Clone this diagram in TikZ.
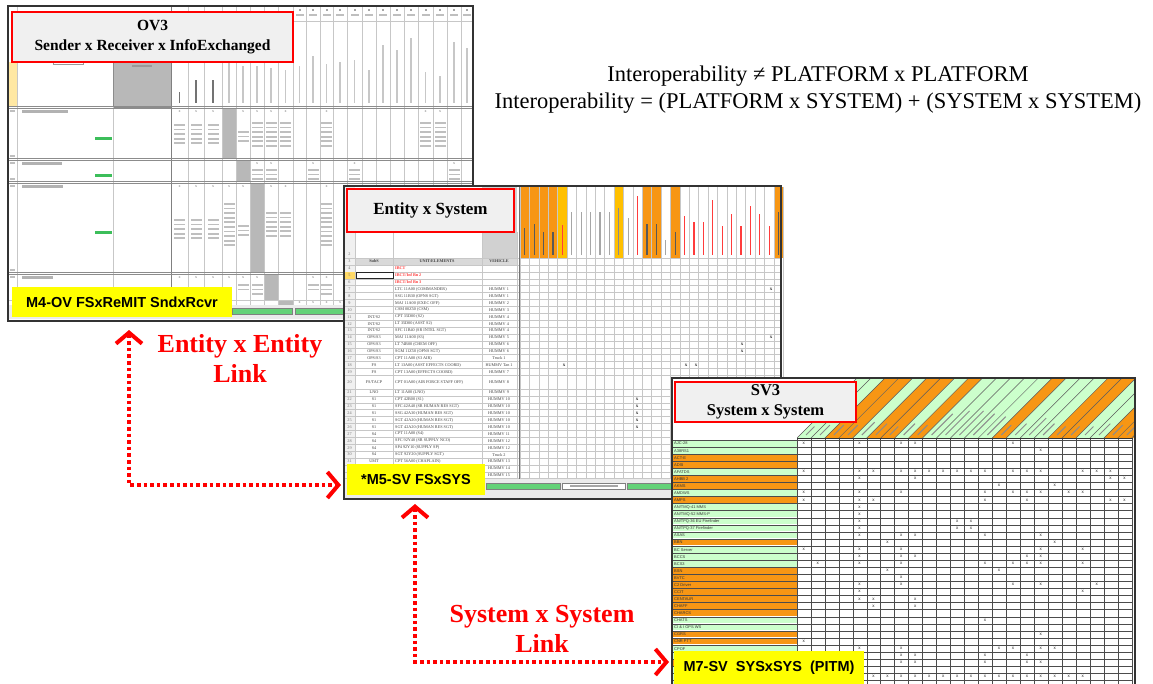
\documentclass[tikz,border=0pt]{standalone}
\usepackage{fontspec}
\setmainfont{Liberation Serif}
\newfontfamily\arialfam{Liberation Sans}
\usetikzlibrary{arrows.meta}
\definecolor{cOr}{RGB}{247,150,20}
\definecolor{cYe}{RGB}{255,192,0}
\definecolor{cGr}{RGB}{204,255,204}
\definecolor{cTab}{RGB}{100,210,120}
\definecolor{cRed}{RGB}{255,0,0}
\definecolor{cYel}{RGB}{255,255,0}
\definecolor{cTitle}{RGB}{240,240,240}
\definecolor{cSel}{RGB}{255,217,102}
\definecolor{cTxtRed}{RGB}{255,60,60}
\definecolor{cGreenTxt}{RGB}{60,190,90}
\newcommand\mysl{/}
\newcount\mycnt
\newcommand\tx[4][]{\global\advance\mycnt by 1\relax\node[#1] (q\the\mycnt) at (#2,#3) {#4};}
\newcommand\ovl[3]{\foreach \k in {1,...,#3}{\fill[black!25] ({#1-5.5},{#2+4.6*(\k-1)}) rectangle ({#1+5.5},{#2+1.8+4.6*(\k-1)});}}
\newcommand\prow[5]{%
  \tx[tinyt,text=black!55]{349.5}{#1}{#2}%
  \tx[tinyt]{374}{#1}{#3}%
  \tx[tinyt,anchor=west]{395}{#1}{#4}%
  \tx[tinyt]{499}{#1}{#5}}
\begin{document}
\begin{tikzpicture}[x=1pt,y=-1pt,
  panel/.style={fill=white,inner sep=0pt,outer sep=0pt},
  frame/.style={draw=black!80,line width=2pt},
  titlebox/.style={draw=cRed,line width=2.8pt,fill=cTitle,inner sep=0pt,align=center,
     font=\bfseries\fontsize{15.5}{19.5}\selectfont},
  ylab/.style={fill=cYel,inner sep=0pt,font=\arialfam\bfseries\fontsize{14.5}{17}\selectfont},
  redlab/.style={text=cRed,align=center,font=\bfseries\fontsize{26}{30}\selectfont},
  link/.style={draw=cRed,line width=3.6pt,dash pattern=on 3.6pt off 3pt,
     >={Straight Barb[length=11pt,width=26pt,line width=4pt]},<->},
  gl/.style={draw=black!22,line width=0.5pt},
  g3/.style={draw=black!70,line width=0.5pt},
  tabg/.style={fill=cTab,draw=black!50,line width=0.3pt},
  tinyt/.style={inner sep=0pt,text=black!75,font=\fontsize{4.2}{4.5}\selectfont},
  tinyb/.style={inner sep=0pt,text=black!75,font=\bfseries\fontsize{4.2}{4.5}\selectfont},
  tinyr/.style={inner sep=0pt,text=cTxtRed,anchor=west,font=\bfseries\fontsize{4.2}{4.5}\selectfont},
  xm/.style={inner sep=0pt,text=black!55,font=\fontsize{4}{4}\selectfont},
  xm5/.style={inner sep=0pt,text=black!80,font=\bfseries\fontsize{5}{5}\selectfont},
  lab3/.style={inner sep=0pt,text=black!80,font=\arialfam\fontsize{4}{4}\selectfont},
  xm3/.style={inner sep=0pt,text=black!85,font=\arialfam\fontsize{4.5}{4.5}\selectfont},
]
\useasboundingbox (0,0) rectangle (1153,683);
\clip (0,0) rectangle (1153,683);

% ================= Panel 1 : OV3 =================
\node[panel,minimum width=465pt,minimum height=315pt] (p1) at (240.5,163.5) {};
\fill[cSel!60] (9,62) rectangle (17,106);
\draw[black!40,line width=0.4pt] (53,60) rectangle (83,64);
\fill[black!28] (113,62) rectangle (171,107);
\draw[black!45,line width=0.6pt] (113,62) rectangle (171,107);
\fill[black!40] (132,65) rectangle (152,67);
% grey cells
\fill[black!28] (222,108) rectangle (236,159);
\fill[black!28] (236,160) rectangle (250,182);
\fill[black!28] (250,183) rectangle (264,273);
\fill[black!28] (264,274) rectangle (278,300);
\fill[black!28] (278,300) rectangle (293,305);
% rotated header texts
\foreach \x/\tp in {179.5/92,196/80,213/80}{\fill[black!55] ({\x-0.8},\tp) rectangle ({\x+0.8},103);}
\foreach \x/\tp in {229/62,243/66,257/66,271/68,285.5/70,299.5/66,313/56,326.5/64,340/62,354.5/60,369/70,383/45,397/50,411/38,425.5/72,440/76,454/42,467/48}{\fill[black!22] ({\x-0.7},\tp) rectangle ({\x+0.7},103);}
\foreach \x in {299.5,313,326.5,340,354.5,369,383,397,411,425.5,440,454,467}{\fill[black!25] ({\x-4},14) rectangle ({\x+4},16); \fill[black!35] ({\x-1},9) rectangle ({\x+1},11);}
% grid lines
\foreach \x in {188,204,222,236,250,264,278,293,306,320,333,347,362,376,390,404,418,433,447,461}{\draw[gl] (\x,7) -- (\x,305);}
\draw[black!50,line width=0.8pt] (171,7) -- (171,305);
\draw[gl] (17,7) -- (17,305);
\draw[gl] (113,107) -- (113,305);
\draw[gl] (293,21) -- (473,21);
\foreach \y in {107,159.5,182.5,273.5}{\draw[black!45,line width=0.5pt] (8,{\y-1}) -- (473,{\y-1}); \draw[black!45,line width=0.5pt] (8,{\y+1}) -- (473,{\y+1});}
\draw[gl] (8,300) -- (473,300);
% row labels (blurred) and green tags
\fill[black!30] (22,110) rectangle (68,112.5);
\fill[black!30] (22,162) rectangle (62,164.5);
\fill[black!30] (22,185) rectangle (63,187.5);
\fill[black!30] (22,276) rectangle (53,278.5);
\foreach \y in {111,163,186,277,156,179,270}{\fill[black!25] (10,{\y-1}) rectangle (15,{\y+1});}
\foreach \y in {137,174,231}{\fill[cGreenTxt] (95,\y) rectangle (112,{\y+2.5});}
% cell contents
\foreach \x in {179.5,196,213,243,257,271,285.5,326.5,425.5,440}{\tx[xm]{\x}{112}{x}}
\foreach \x in {179.5,196,213}{\ovl{\x}{124}{5}}
\ovl{243}{131}{3}
\foreach \x in {257,271,285.5,326.5,425.5,440}{\ovl{\x}{122}{6}}
\foreach \x in {257,271,313,354.5,454}{\tx[xm]{\x}{164}{x}\ovl{\x}{169}{3}}
\foreach \x in {179.5,196,213,229,243,271,285.5,326.5}{\tx[xm]{\x}{187}{x}}
\foreach \x in {179.5,196,213}{\ovl{\x}{219}{5}}
\ovl{229}{203}{10}
\ovl{243}{225}{3}
\foreach \x in {271,285.5}{\ovl{\x}{212}{6}}
\ovl{326.5}{203}{10}
\foreach \x in {179.5,196,213,229,243,257,313,326.5}{\tx[xm]{\x}{278}{x}}
\ovl{243}{284}{2}\ovl{257}{284}{3}\ovl{313}{284}{2}\ovl{326.5}{284}{3}
\foreach \x in {299.5,313,326.5,340,354.5}{\tx[xm]{\x}{303}{x}}
% sheet tabs
\fill[black!8] (9,305) rectangle (472,319);
\draw[tabg] (232,308) rectangle (292,314);
\draw[tabg] (295,308) rectangle (372,314);
\draw[tabg] (376,308) rectangle (402,314);
\draw[frame] (p1.north west) rectangle (p1.south east);
\node[titlebox,minimum width=281pt,minimum height=50pt] (t1) at (152.5,37) {OV3\\Sender x Receiver x InfoExchanged};
\node[ylab,minimum width=220pt,minimum height=30pt] (y1) at (122,302) {M4-OV FSxReMIT SndxRcvr};

% ================= Panel 2 : Entity x System =================
\node[panel,minimum width=437pt,minimum height=313pt] (p2) at (562.5,342.5) {};
\fill[black!6] (344,186) rectangle (355,479);
\fill[black!18] (482,186) rectangle (517,258);
\foreach \i/\fc/\tc/\tp in {0/cOr/black!65/228,1/cOr/black!65/224,2/cOr/black!65/232,3/cOr/black!65/232,4/cYe/cTxtRed/225,5/white/black!35/212,6/white/black!35/212,7/white/black!35/212,8/white/black!35/212,9/white/black!35/212,10/cYe/black!45/208,11/white/black!35/218,12/white/cTxtRed/196,13/cOr/black!65/224,14/cOr/black!65/224,15/white/black!35/240,16/cOr/black!65/232,17/white/cTxtRed/216,18/white/cTxtRed/222,19/white/cTxtRed/222,20/white/cTxtRed/200,21/white/cTxtRed/226,22/white/cTxtRed/214,23/white/cTxtRed/226,24/white/cTxtRed/206,25/white/cTxtRed/214,26/white/cTxtRed/226,27/cOr/black!65/212}{
  \fill[\fc] ({520+9.4*\i},187) rectangle ({520+9.4*(\i+1)},258);
  \fill[\tc] ({524.2+9.4*\i},\tp) rectangle ({525.4+9.4*\i},255);}
\fill[black!15] (355,258) rectangle (517,265);
\foreach \y in {258,265,271.9,278.8,285.7,292.6,299.5,306.4,313.3,320.2,327.1,334,340.9,347.8,354.7,361.6,368.5,375.4,389,395.9,402.8,409.7,416.6,423.5,430.4,437.3,444.2,451.1,458,464.9,471.8,478.7}{\draw[gl] (344,\y) -- (781,\y);}
\foreach \i in {0,...,28}{\draw[gl] ({520+9.4*\i},187) -- ({520+9.4*\i},479);}
\foreach \x in {355,393,482,517}{\draw[gl] (\x,232) -- (\x,479);}
\draw[black!55,line width=1pt] (519.5,186) -- (519.5,479);
\fill[cSel] (344,271.9) rectangle (355,278.8);
\draw[black!85,line width=0.8pt] (356,271.9) rectangle (393,278.8);
\tx[tinyt,text=black!55]{349.5}{254}{2}
\tx[tinyt,text=black!55]{349.5}{261.5}{3}
\tx[tinyb]{374}{261.5}{SubS}
\tx[tinyb]{437}{261.5}{UNIT/ELEMENTS}
\tx[tinyb]{499}{261.5}{VEHICLE}
\tx[tinyt,text=black!55]{349.5}{268.5}{4}
\tx[tinyt,text=black!55]{349.5}{275.4}{5}
\tx[tinyt,text=black!55]{349.5}{282.3}{6}
\tx[tinyr]{395}{268.5}{IBCT}
\tx[tinyr]{395}{275.4}{IBCT/Inf Bn 2}
\tx[tinyr]{395}{282.3}{IBCT/Inf Bn 3}
\prow{289.2}{7}{}{LTC 11A00 (COMMANDER)}{HUMMV 1}
\prow{296.1}{8}{}{SSG 11B30 (OPNS SGT)}{HUMMV 1}
\prow{303.0}{9}{}{MAJ 11A00 (EXEC OFF)}{HUMMV 2}
\prow{309.9}{10}{}{CSM 00Z50 (CSM)}{HUMMV 3}
\prow{316.8}{11}{INT/S2}{CPT 35D00 (S2)}{HUMMV 4}
\prow{323.7}{12}{INT/S2}{LT 35D00 (ASST S2)}{HUMMV 4}
\prow{330.6}{13}{INT/S2}{SFC 11B40 (SR INTEL SGT)}{HUMMV 4}
\prow{337.5}{14}{OPS/S3}{MAJ 11A00 (S3)}{HUMMV 5}
\prow{344.4}{15}{OPS/S3}{LT 74B00 (CHEM OFF)}{HUMMV 6}
\prow{351.3}{16}{OPS/S3}{SGM 11Z50 (OPNS SGT)}{HUMMV 6}
\prow{358.2}{17}{OPS/S3}{CPT 11A00 (S3 AIR)}{Truck 1}
\prow{365.1}{18}{FS}{LT 13A00 (ASST EFFECTS COORD)}{HUMMV Tan 1}
\prow{372.0}{19}{FS}{CPT 13A00 (EFFECTS COORD)}{HUMMV 7}
\prow{382.2}{20}{FS/TACP}{CPT 01A00 (AIR FORCE STAFF OFF)}{HUMMV 8}
\prow{392.5}{21}{LNO}{LT 11A00 (LNO)}{HUMMV 9}
\prow{399.4}{22}{S1}{CPT 42B00 (S1)}{HUMMV 10}
\prow{406.3}{23}{S1}{SFC 42A40 (SR HUMAN RES SGT)}{HUMMV 10}
\prow{413.2}{24}{S1}{SSG 42A30 (HUMAN RES SGT)}{HUMMV 10}
\prow{420.1}{25}{S1}{SGT 42A20 (HUMAN RES SGT)}{HUMMV 10}
\prow{427.0}{26}{S1}{SGT 42A20 (HUMAN RES SGT)}{HUMMV 10}
\prow{433.9}{27}{S4}{CPT 11A00 (S4)}{HUMMV 11}
\prow{440.8}{28}{S4}{SFC 92Y40 (SR SUPPLY NCO)}{HUMMV 12}
\prow{447.7}{29}{S4}{SP4 92Y10 (SUPPLY SP)}{HUMMV 12}
\prow{454.6}{30}{S4}{SGT 92Y20 (SUPPLY SGT)}{Truck 2}
\prow{461.5}{31}{UMT}{CPT 56A00 (CHAPLAIN)}{HUMMV 13}
\prow{468.4}{32}{}{}{HUMMV 14}
\prow{475.3}{33}{}{}{HUMMV 15}
\foreach \x/\y in {771/289.2,771/337.5,742/344.4,742/351.3,564/365.1,686/365.1,696/365.1,637/399.4,637/406.3,637/413.2,637/420.1,637/427}{\tx[xm5]{\x}{\y}{x}}
\fill[black!8] (345,479) rectangle (780,498);
\draw[tabg] (486,483) rectangle (560,489);
\draw[fill=white,draw=black!50,line width=0.3pt] (562,483) rectangle (625,489);
\fill[black!35] (570,485.2) rectangle (618,486.8);
\draw[tabg] (627,483) rectangle (672,489);
\draw[frame] (p2.north west) rectangle (p2.south east);
\node[titlebox,minimum width=167pt,minimum height=43pt,font=\bfseries\fontsize{17}{20}\selectfont] (t2) at (430.5,210.5) {Entity x System};
\node[ylab,minimum width=138pt,minimum height=31pt] (y2) at (416,479.5) {*M5-SV FSxSYS};

% ================= Panel 3 : SV3 =================
\node[panel,minimum width=463pt,minimum height=314pt] (p3) at (903.5,535) {};
\begin{scope}
  \clip (797,378) rectangle (1134,438);
  \foreach \c/\fc/\L in {0/cGr/12,1/cGr/14,2/cOr/14,3/cOr/14,4/cGr/18,5/cOr/16,6/cOr/12,7/cGr/16,8/cOr/14,9/cGr/30,10/cGr/34,11/cGr/34,12/cGr/30,13/cGr/26,14/cOr/14,15/cGr/16,16/cGr/24,17/cGr/16,18/cOr/12,19/cOr/12,20/cGr/12,21/cGr/16,22/cOr/14,23/cOr/14,24/cOr/10}{
    \fill[\fc] ({797+13.95*\c},438) -- ({810.95+13.95*\c},438) -- ({870.95+13.95*\c},378) -- ({857+13.95*\c},378) -- cycle;
    \draw[black!65,line width=0.5pt] ({797+13.95*\c},438) -- ({857+13.95*\c},378);
    \draw[black!45,line width=1pt] ({806+13.95*\c},435) -- ++({\L*0.707},{-\L*0.707});}
\end{scope}
\foreach \r/\fc/\lab in {0/cGr/AJC-28,1/cGr/A38RS1,2/cOr/ACT-E,3/cOr/ADSI,4/cGr/AFATDS,5/cOr/AHBB 2,6/cOr/AKMS,7/cGr/AMDWS,8/cOr/AMPS,9/cGr/AN\mysl TMQ-41 MMS,10/cGr/AN\mysl TMQ-52 MMS-P,11/cGr/AN\mysl TPQ-36 EU Firefinder,12/cGr/AN\mysl TPQ-37 Firefinder,13/cGr/ASAS,14/cOr/BBN,15/cGr/BC Server,16/cGr/BCCS,17/cGr/BCS3,18/cOr/BSN,19/cOr/BVTC,20/cOr/C2 Driver,21/cOr/CCIT,22/cOr/CENTAUR,23/cOr/CHAFF,24/cOr/CHARCS,25/cGr/CHATS,26/cGr/CI \& I OPS WS,27/cOr/CGRS,28/cOr/CNR PTT,29/cGr/CPOF}{
  \fill[\fc] (673,{440.6+7.07*\r}) rectangle (797,{446.5+7.07*\r});
  \node[lab3,anchor=west] (s3r\r) at (674,{443.6+7.07*\r}) {\lab};}
\foreach \r/\fc in {30/cGr,31/cOr,32/cGr,33/cGr,34/cGr}{\fill[\fc] (673,{440.6+7.07*\r}) rectangle (797,{446.5+7.07*\r});}
\foreach \r in {0,...,35}{\draw[g3] (672,{440+7.07*\r}) -- (1133,{440+7.07*\r});}
\foreach \c in {0,...,24}{\draw[g3] ({797+13.95*\c},438) -- ({797+13.95*\c},690);}
\draw[black!80,line width=0.8pt] (797,438) -- (1133,438);
\foreach \r/\c in {0/0,0/4,0/7,0/8,0/15,1/17,4/0,4/4,4/5,4/7,4/8,4/9,4/10,4/11,4/12,4/13,4/15,4/16,4/17,4/20,4/21,4/22,5/4,5/8,5/22,5/23,6/14,6/18,7/0,7/4,7/7,7/13,7/15,7/16,7/17,7/19,7/20,8/0,8/4,8/5,8/13,8/16,8/22,8/23,9/4,10/4,11/4,11/11,11/12,12/4,12/11,12/12,13/4,13/7,13/8,13/13,13/17,14/6,14/18,15/0,15/4,15/7,15/17,15/20,16/4,16/7,16/8,16/16,16/17,17/1,17/4,17/7,17/13,17/15,17/16,17/17,17/20,18/6,18/14,19/7,20/4,20/7,20/15,20/17,20/21,21/4,21/20,22/4,22/5,22/8,23/5,23/8,25/13,27/17,28/0,29/4,29/7,29/14,29/15,29/17,29/18,30/7,30/8,30/13,30/16,31/7,31/8,31/13,31/16,31/17,33/5,33/6,33/7,33/8,33/9,33/10,33/11,33/12,33/13,33/14,33/15,33/16,33/17,33/18,33/19,33/20}{
  \node[xm3] (s3x\r-\c) at ({803.7+13.95*\c},{443.3+7.07*\r}) {x};}
\draw[frame] (p3.north west) rectangle (p3.south east);
\node[titlebox,minimum width=181pt,minimum height=40pt,font=\bfseries\fontsize{16.5}{20}\selectfont] (t3) at (765.5,402) {SV3\\System x System};
\node[ylab,minimum width=190pt,minimum height=33pt] (y3) at (769,667.5) {M7-SV\ \ SYSxSYS\ \ (PITM)};

% ================= Text and links =================
\node[font=\fontsize{22.5}{27}\selectfont,align=center,inner sep=0pt] (eq) at (818,90) {Interoperability ≠ PLATFORM x PLATFORM\\Interoperability = (PLATFORM x SYSTEM) + (SYSTEM x SYSTEM)};
\node[redlab] (ee) at (240,358) {Entity x Entity\\Link};
\node[redlab] (ss) at (542,629) {System x System\\Link};
\coordinate (a1s) at (129,330);
\coordinate (a1e) at (341,485);
\draw[link] (a1s) |- (a1e);
\coordinate (a2s) at (415,504);
\coordinate (a2e) at (669,662);
\draw[link] (a2s) |- (a2e);
\end{tikzpicture}
\end{document}
